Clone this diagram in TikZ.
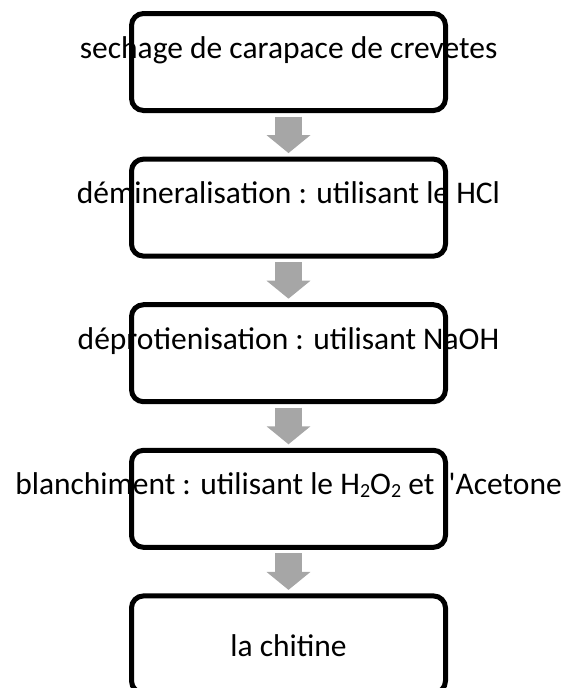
\documentclass[tikz,border=0pt]{standalone}
\usepackage{fontspec}
\setmainfont{Carlito}
\usetikzlibrary{
    positioning,
    arrows.meta,
    calc
}

\newcommand\indice[1]{\raisebox{-2.5pt}{\fontsize{20}{20}\selectfont #1}}

\tikzset{
    etape/.style={draw=black, line width=5pt, rounded corners=12pt,
        minimum width=314pt, minimum height=97pt, outer sep=0pt, inner sep=0pt},
    libelle/.style={inner sep=0pt, anchor=base,
        font=\fontsize{31.5}{38}\selectfont},
    fleche/.style={draw=black!35, line width=27pt,
        -{Triangle[length=18pt, width=43pt]}}
}

\begin{document}
\begin{tikzpicture}[x=1pt, y=-1pt]
        \useasboundingbox (0,0) rectangle (566,688);

        % Étapes du procédé
        \node[etape] (b1) at (288.5, 62) {};
        \node[etape, below=48.6pt of b1] (b2) {};
        \node[etape, below=48.6pt of b2] (b3) {};
        \node[etape, below=48.6pt of b3] (b4) {};
        \node[etape, below=48.6pt of b4] (b5) {};

        % Textes des étapes
        \node[libelle] (t1) at ($(b1.north)+(0,44.5)$) {sechage de carapace de crevetes};
        \node[libelle] (t2) at ($(b2.north)+(0,44.5)$) {démineralisation : utilisant le HCl};
        \node[libelle] (t3) at ($(b3.north)+(0,44.5)$) {déprotienisation : utilisant NaOH};
        \node[libelle] (t4) at ($(b4.north)+(0,44.5)$) {blanchiment : utilisant le H\indice{2}O\indice{2} et l\textquotesingle Acetone};
        \node[libelle, anchor=center] (t5) at ($(b5.center)+(0,1)$) {la chitine};

        % Flèches entre les étapes
        \draw[fleche] ($(b1.south)+(0,6)$) -- ($(b2.north)+(0,-6)$);
        \draw[fleche] ($(b2.south)+(0,6)$) -- ($(b3.north)+(0,-6)$);
        \draw[fleche] ($(b3.south)+(0,6)$) -- ($(b4.north)+(0,-6)$);
        \draw[fleche] ($(b4.south)+(0,6)$) -- ($(b5.north)+(0,-6)$);
    \end{tikzpicture}
\end{document}
